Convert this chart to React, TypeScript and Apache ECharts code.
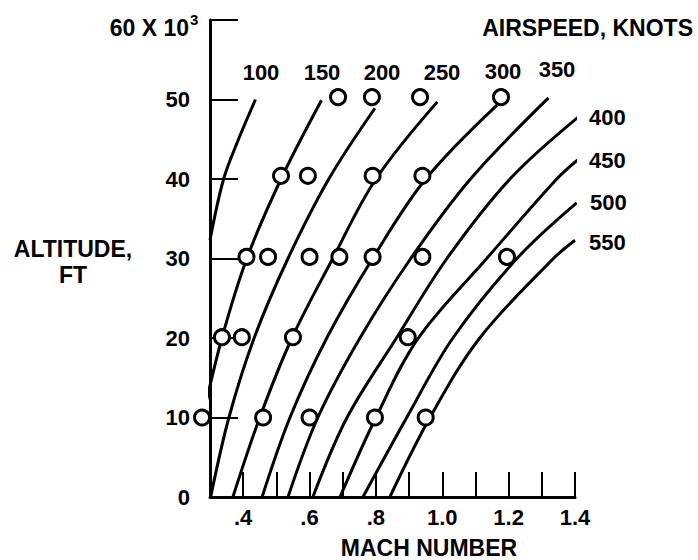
import React, { useEffect, useRef } from 'react';
import * as echarts from 'echarts';

// Constant-airspeed curves: [Mach, altitude (x1000 ft)]
const c100 = [[0.3, 32.3], [0.341, 40], [0.386, 45], [0.437, 50]];
const c150 = [[0.278, 10], [0.336, 20], [0.411, 30], [0.514, 40], [0.636, 49.9]];
const c200 = [[0.302, 0], [0.357, 10], [0.433, 20], [0.535, 30], [0.658, 40], [0.797, 48.9]];
const c250 = [[0.369, 0], [0.45, 10], [0.547, 20], [0.67, 30], [0.8, 40], [0.985, 49.7]];
const c300 = [[0.457, 0], [0.541, 10], [0.652, 20], [0.79, 30], [0.95, 40], [1.165, 49.3]];
const c350 = [[0.535, 0], [0.625, 10], [0.752, 20], [0.905, 30], [1.085, 40], [1.32, 50.2]];
const c400 = [[0.61, 0], [0.713, 10], [0.862, 20], [1.014, 30], [1.204, 40], [1.41, 47.8]];
const c450 = [[0.692, 0], [0.8, 10], [0.928, 20], [1.134, 30], [1.345, 40], [1.408, 42.4]];
const c500 = [[0.761, 0], [0.893, 10], [1.032, 20], [1.225, 30], [1.405, 37]];
const c550 = [[0.842, 0], [0.963, 10], [1.113, 20], [1.335, 30], [1.4, 32.3]];

const curveNames = ['100', '150', '200', '250', '300', '350', '400', '450', '500', '550'];
const curveData = [c100, c150, c200, c250, c300, c350, c400, c450, c500, c550];

// Flight-test points (open circles)
const circleAlts = [50.3, 40.4, 30.2, 20.1, 10.0];
const circleMach50 = [0.686, 0.788, 0.933, 1.177];
const circleMach40 = [0.514, 0.595, 0.79, 0.94];
const circleMach30 = [0.41, 0.475, 0.6, 0.69, 0.79, 0.94, 1.195];
const circleMach20 = [0.336, 0.396, 0.55, 0.896];
const circleMach10 = [0.276, 0.46, 0.6, 0.797, 0.95];
const circleMachs = [circleMach50, circleMach40, circleMach30, circleMach20, circleMach10];

const xTickLabels: Record<number, string> = { 4: '.4', 6: '.6', 8: '.8', 10: '1.0', 12: '1.2', 14: '1.4' };

// label positions for curve names (pixels)
const topLabelPos = [[261, 72], [322, 72], [382, 72], [442, 72], [503, 71], [557, 69]];
const rightLabelPos = [[589, 117], [589, 160], [590, 202], [589, 242]];

const FONT = '"Liberation Sans", Arial, Helvetica, sans-serif';

export default function App() {
  const ref = useRef<HTMLDivElement>(null);
  useEffect(() => {
    document.body.style.margin = '0';
    const chart = echarts.init(ref.current!, null, { renderer: 'svg' });

    const lineSeries = curveData.map((d, i) => ({
      type: 'line',
      name: curveNames[i],
      data: d,
      smooth: 0.35,
      symbol: 'none',
      clip: false,
      silent: true,
      z: 2,
      lineStyle: { color: '#000', width: 3 },
    }));

    const circles: number[][] = [];
    circleMachs.forEach((arr, i) => arr.forEach((m) => circles.push([m, circleAlts[i]])));

    const textStyle = (t: string, x: number, y: number, align: string, size = 22) => ({
      type: 'text',
      x,
      y,
      style: {
        text: t,
        fill: '#000',
        font: `bold ${size}px ${FONT}`,
        textAlign: align,
        textVerticalAlign: 'middle',
      },
      z: 10,
    });

    const graphics: any[] = [];
    topLabelPos.forEach((p, i) => graphics.push(textStyle(curveNames[i], p[0], p[1], 'center')));
    rightLabelPos.forEach((p, i) => graphics.push(textStyle(curveNames[i + 6], p[0], p[1], 'left')));
    graphics.push(textStyle('60 X 10', 189, 28, 'right', 23));
    graphics.push(textStyle('3', 190, 19, 'left', 15));
    graphics.push(textStyle('ALTITUDE,', 73, 249, 'center', 23));
    graphics.push(textStyle('FT', 73, 275, 'center', 23));
    graphics.push(textStyle('MACH NUMBER', 429, 548, 'center', 23));
    graphics.push(textStyle('AIRSPEED, KNOTS', 693, 28, 'right', 23));

    chart.setOption({
      animation: false,
      backgroundColor: '#fff',
      grid: { left: 210, top: 20, width: 365, height: 477, containLabel: false },
      xAxis: {
        type: 'value',
        min: 0.3,
        max: 1.4,
        interval: 0.1,
        axisLine: { show: true, onZero: false, lineStyle: { color: '#000', width: 3 } },
        axisTick: { show: true, inside: true, length: 25, lineStyle: { color: '#000', width: 2 } },
        splitLine: { show: false },
        axisLabel: {
          color: '#000',
          fontSize: 22,
          fontWeight: 'bold',
          fontFamily: FONT,
          margin: 9,
          formatter: (v: number) => xTickLabels[Math.round(v * 10)] || '',
        },
      },
      yAxis: {
        type: 'value',
        min: 0,
        max: 60,
        interval: 10,
        axisLine: { show: true, onZero: false, lineStyle: { color: '#000', width: 3 } },
        axisTick: { show: true, inside: true, length: 28, lineStyle: { color: '#000', width: 2 } },
        splitLine: { show: false },
        axisLabel: {
          color: '#000',
          fontSize: 22,
          fontWeight: 'bold',
          fontFamily: FONT,
          margin: 20,
          formatter: (v: number) => (v === 60 ? '' : String(v)),
        },
      },
      series: [
        ...lineSeries,
        {
          type: 'scatter',
          data: circles,
          symbol: 'circle',
          symbolSize: 15,
          clip: false,
          silent: true,
          z: 5,
          itemStyle: { color: '#fff', borderColor: '#000', borderWidth: 3, opacity: 1 },
        },
      ],
      graphic: graphics,
    });
    return () => chart.dispose();
  }, []);
  return (
    <div
      ref={ref}
      style={{ position: 'fixed', left: 0, top: 0, width: 698, height: 560, background: '#fff' }}
    />
  );
}
